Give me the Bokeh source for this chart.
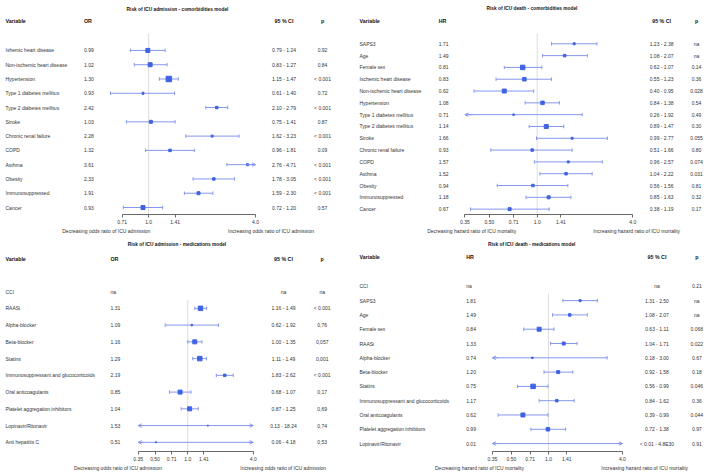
import math
from bokeh.plotting import figure
from bokeh.models import (Range1d, LogScale, LogAxis, LinearAxis, FixedTicker,
                          ColumnDataSource, Arrow, OpenHead)
from bokeh.layouts import gridplot
from bokeh.core.properties import value
from bokeh.embed import file_html
from bokeh.resources import INLINE

NA = float("nan")

# ---------------- data: ICU admission - comorbidities model ----------------
a1_vars = ["Ishemic heart disease", "Non-ischemic heart disease", "Hypertension",
           "Type 1 diabetes mellitus", "Type 2 diabetes mellitus", "Stroke",
           "Chronic renal failure", "COPD", "Asthma", "Obesity", "Immunosuppressed", "Cancer"]
a1_est = [0.99, 1.02, 1.30, 0.93, 2.42, 1.03, 2.28, 1.32, 3.61, 2.33, 1.91, 0.93]
a1_lo = [0.79, 0.83, 1.15, 0.61, 2.10, 0.75, 1.62, 0.96, 2.76, 1.78, 1.59, 0.72]
a1_hi = [1.24, 1.27, 1.47, 1.40, 2.79, 1.41, 3.23, 1.81, 4.71, 3.05, 2.30, 1.20]
a1_est_txt = ["0.99", "1.02", "1.30", "0.93", "2.42", "1.03", "2.28", "1.32", "3.61", "2.33", "1.91", "0.93"]
a1_ci_txt = ["0.79 - 1.24", "0.83 - 1.27", "1.15 - 1.47", "0.61 - 1.40", "2.10 - 2.79", "0.75 - 1.41",
             "1.62 - 3.23", "0.96 - 1.81", "2.76 - 4.71", "1.78 - 3.05", "1.59 - 2.30", "0.72 - 1.20"]
a1_p_txt = ["0.92", "0.84", "< 0.001", "0.72", "< 0.001", "0.87", "< 0.001", "0.09",
            "< 0.001", "< 0.001", "< 0.001", "0.57"]
a1_box = [4, 4, 5.5, 2, 2.5, 3, 2, 2.5, 2, 2.5, 3, 4]

# ---------------- data: ICU death - comorbidities model ----------------
d1_vars = ["SAPS3", "Age", "Female sex", "Ischemic heart disease", "Non-ischemic heart disease",
           "Hypertension", "Type 1 diabetes mellitus", "Type 2 diabetes mellitus", "Stroke",
           "Chronic renal failure", "COPD", "Asthma", "Obesity", "Immunosuppressed", "Cancer"]
d1_est = [1.71, 1.49, 0.81, 0.83, 0.62, 1.08, 0.71, 1.14, 1.66, 0.93, 1.57, 1.52, 0.94, 1.18, 0.67]
d1_lo = [1.23, 1.08, 0.62, 0.55, 0.40, 0.84, 0.26, 0.89, 0.99, 0.51, 0.96, 1.04, 0.56, 0.85, 0.38]
d1_hi = [2.38, 2.07, 1.07, 1.23, 0.95, 1.38, 1.92, 1.47, 2.77, 1.66, 2.57, 2.22, 1.56, 1.63, 1.19]
d1_est_txt = ["1.71", "1.49", "0.81", "0.83", "0.62", "1.08", "0.71", "1.14", "1.66", "0.93",
              "1.57", "1.52", "0.94", "1.18", "0.67"]
d1_ci_txt = ["1.23 - 2.38", "1.08 - 2.07", "0.62 - 1.07", "0.55 - 1.23", "0.40 - 0.95", "0.84 - 1.38",
             "0.26 - 1.92", "0.89 - 1.47", "0.99 - 2.77", "0.51 - 1.66", "0.96 - 2.57", "1.04 - 2.22",
             "0.56 - 1.56", "0.85 - 1.63", "0.38 - 1.19"]
d1_p_txt = ["na", "na", "0.14", "0.36", "0.028", "0.54", "0.49", "0.30", "0.055", "0.80",
            "0.074", "0.031", "0.81", "0.32", "0.17"]
d1_box = [2, 2.5, 4.5, 3.5, 4, 3.5, 1.5, 4, 2, 2.5, 2, 2.5, 2.5, 3, 3]

# ---------------- data: ICU admission - medications model ----------------
a2_vars = ["CCI", "RAASi", "Alpha-blocker", "Beta-blocker", "Statins",
           "Immunosuppressant and glucocorticoids", "Oral anticoagulants",
           "Platelet aggregation inhibitors", "Lopinavir/Ritonavir", "Anti hepatitis C"]
a2_est = [NA, 1.31, 1.09, 1.16, 1.29, 2.19, 0.85, 1.04, 1.53, 0.51]
a2_lo = [NA, 1.16, 0.62, 1.00, 1.11, 1.83, 0.68, 0.87, 0.13, 0.06]
a2_hi = [NA, 1.49, 1.92, 1.35, 1.49, 2.62, 1.07, 1.25, 18.24, 4.18]
a2_est_txt = ["na", "1.31", "1.09", "1.16", "1.29", "2.19", "0.85", "1.04", "1.53", "0.51"]
a2_ci_txt = ["na", "1.16 - 1.49", "0.62 - 1.92", "1.00 - 1.35", "1.11 - 1.49", "1.83 - 2.62",
             "0.68 - 1.07", "0.87 - 1.25", "0.13 - 18.24", "0.06 - 4.18"]
a2_p_txt = ["na", "< 0.001", "0,76", "0,057", "0,001", "< 0.001", "0,17", "0,69", "0,74", "0,53"]
a2_box = [0, 4.5, 1.5, 4, 4.5, 2.5, 4, 4, 1, 1]

# ---------------- data: ICU death - medications model ----------------
d2_vars = ["CCI", "SAPS3", "Age", "Female sex", "RAASi", "Alpha-blocker", "Beta-blocker", "Statins",
           "Immunosuppressant and glucocorticoids", "Oral anticoagulants",
           "Platelet aggregation inhibitors", "Lopinavir/Ritonavir"]
d2_est = [NA, 1.81, 1.49, 0.84, 1.33, 0.74, 1.20, 0.75, 1.17, 0.62, 0.99, 0.01]
d2_lo = [NA, 1.31, 1.08, 0.63, 1.04, 0.18, 0.92, 0.56, 0.84, 0.39, 0.72, 0.005]
d2_hi = [NA, 2.50, 2.07, 1.11, 1.71, 3.00, 1.58, 0.99, 1.62, 0.99, 1.38, 4.8e30]
d2_est_txt = ["na", "1.81", "1.49", "0.84", "1.33", "0.74", "1.20", "0.75", "1.17", "0.62", "0.99", "0.01"]
d2_ci_txt = ["na", "1.31 - 2.50", "1.08 - 2.07", "0.63 - 1.11", "1.04 - 1.71", "0.18 - 3.00",
             "0.92 - 1.58", "0.56 - 0.99", "0.84 - 1.62", "0.39 - 0.99", "0.72 - 1.38", "< 0.01 - 4.8E30"]
d2_p_txt = ["0.21", "na", "na", "0.068", "0.022", "0.67", "0.18", "0.046", "0.36", "0.044", "0.97", "0.91"]
d2_box = [0, 2, 2.5, 4, 3, 1.5, 3, 4.5, 2.5, 4, 3.5, 0]

ticks_full = [0.35, 0.5, 0.71, 1.0, 1.41, 4.0]
tick_labels = {0.35: "0.35", 0.5: "0.50", 0.71: "0.71", 1.0: "1.0", 1.41: "1.41", 4.0: "4.0"}

FONT = "Liberation Sans"
BOX = "#3f63e3"
LINE = "#8797ee"
REF = "#dcdcdc"
TXT = "#333333"


def panel(width, height, refw, border_b, title, title_x, title_y, header_y, est_head, est_x, ci_x, p_x,
          first_y, step, axis_y, map_a, map_b, ticks, clip, ref_top, dec_x, inc_x, dec_txt, inc_txt,
          names, est, lo, hi, est_txt, ci_txt, p_txt, box):
    p = figure(width=width, height=height, x_range=Range1d(0, refw), y_range=Range1d(axis_y, 0),
               x_axis_type=None, y_axis_type=None, toolbar_location=None, output_backend="svg",
               min_border_left=0, min_border_right=0, min_border_top=0, min_border_bottom=border_b,
               outline_line_color=None)
    # log scale for the forest area
    (xa, va), (xb, vb) = map_a, map_b
    k = (xb - xa) / math.log2(vb / va)
    x1 = xa - k * math.log2(va)
    p.extra_x_ranges = {"log": Range1d(2 ** ((0 - x1) / k), 2 ** ((refw - x1) / k))}
    p.extra_x_scales = {"log": LogScale()}

    n = len(names)
    ys = [first_y + i * step for i in range(n)]

    # title and headers
    p.text(x=[title_x], y=[title_y], text=[title], text_font=value(FONT),
           text_font_size=value("4.8px"), text_font_style="bold", text_align="center",
           text_baseline="middle", text_color="#111111")
    p.text(x=[5, est_x], y=[header_y, header_y], text=["Variable", est_head], text_font=value(FONT),
           text_font_size=value("5.3px"), text_font_style="bold", text_align="left",
           text_baseline="middle", text_color="#111111")
    p.text(x=[ci_x, p_x], y=[header_y, header_y], text=["95 % CI", "p"], text_font=value(FONT),
           text_font_size=value("5.3px"), text_font_style="bold", text_align="center",
           text_baseline="middle", text_color="#111111")

    # row texts
    src_l = ColumnDataSource(dict(x=[5] * n + [est_x] * n, y=ys + ys, t=list(names) + list(est_txt)))
    p.text(x="x", y="y", text="t", source=src_l, text_font=value(FONT), text_font_size=value("5px"),
           text_align="left", text_baseline="middle", text_color=TXT)
    src_c = ColumnDataSource(dict(x=[ci_x] * n + [p_x] * n, y=ys + ys, t=list(ci_txt) + list(p_txt)))
    p.text(x="x", y="y", text="t", source=src_c, text_font=value(FONT), text_font_size=value("5px"),
           text_align="center", text_baseline="middle", text_color=TXT)

    # reference line at 1
    p.segment(x0=[1.0], y0=[ref_top], x1=[1.0], y1=[axis_y], x_range_name="log",
              line_color=REF, line_width=1)

    clo, chi = clip
    seg = dict(x0=[], x1=[], y=[])
    caps = dict(x=[], y=[])
    arr_l = dict(xs=[], xe=[], y=[])
    arr_r = dict(xs=[], xe=[], y=[])
    boxes = dict(x=[], y=[], s=[])
    for i in range(n):
        if math.isnan(lo[i]):
            continue
        a = max(lo[i], clo)
        b = min(hi[i], chi)
        seg["x0"].append(a); seg["x1"].append(b); seg["y"].append(ys[i])
        if lo[i] >= clo:
            caps["x"].append(lo[i]); caps["y"].append(ys[i])
        else:
            arr_l["xs"].append(clo * 1.12); arr_l["xe"].append(clo); arr_l["y"].append(ys[i])
        if hi[i] <= chi:
            caps["x"].append(hi[i]); caps["y"].append(ys[i])
        else:
            arr_r["xs"].append(chi / 1.12); arr_r["xe"].append(chi); arr_r["y"].append(ys[i])
        if box[i] > 0 and clo <= est[i] <= chi:
            boxes["x"].append(est[i]); boxes["y"].append(ys[i]); boxes["s"].append(box[i])

    p.segment(x0="x0", y0="y", x1="x1", y1="y", source=ColumnDataSource(seg), x_range_name="log",
              line_color=LINE, line_width=1)
    if caps["x"]:
        p.scatter(x="x", y="y", source=ColumnDataSource(caps), marker="dash", angle=math.pi / 2,
                  size=3.5, line_color=LINE, line_width=1, x_range_name="log")
    for d in (arr_l, arr_r):
        if d["xs"]:
            p.add_layout(Arrow(end=OpenHead(size=3.5, line_color=LINE, line_width=1),
                               x_start="xs", y_start="y", x_end="xe", y_end="y",
                               source=ColumnDataSource(d), x_range_name="log",
                               line_color=LINE, line_width=1))
    p.scatter(x="x", y="y", size="s", source=ColumnDataSource(boxes), marker="square",
              fill_color=BOX, line_color=BOX, x_range_name="log")

    # log axis
    lax = LogAxis(x_range_name="log", ticker=FixedTicker(ticks=ticks), bounds=(ticks[0], ticks[-1]),
                  major_label_overrides={t: tick_labels[t] for t in ticks})
    lax.axis_line_color = "#444444"
    lax.axis_line_width = 0.8
    lax.major_tick_line_color = "#444444"
    lax.major_tick_line_width = 0.8
    lax.major_tick_out = 3
    lax.major_tick_in = 0
    lax.minor_tick_line_color = None
    lax.major_label_standoff = 2
    lax.major_label_text_font = FONT
    lax.major_label_text_font_size = "5px"
    lax.major_label_text_color = TXT
    p.add_layout(lax, "below")

    # direction labels
    lab = LinearAxis(ticker=FixedTicker(ticks=[dec_x, inc_x]),
                     major_label_overrides={dec_x: dec_txt, inc_x: inc_txt})
    lab.axis_line_color = None
    lab.major_tick_line_color = None
    lab.minor_tick_line_color = None
    lab.major_tick_out = 0
    lab.major_tick_in = 0
    lab.major_label_standoff = 1
    lab.major_label_text_font = FONT
    lab.major_label_text_font_size = "5px"
    lab.major_label_text_color = TXT
    p.add_layout(lab, "below")
    return p


p1 = panel(354, 237, 354, 23, "Risk of ICU admission - comorbidities model", 177, 9, 21, "OR", 83.5, 283.5, 322,
           50, 14.3, 214.3, (121.7, 0.71), (255, 4.0), [0.71, 1.0, 1.41, 4.0], (0.5, 4.0), 33,
           105.8, 270.5, "Decreasing odds ratio of ICU admission", "Increasing odds ratio of ICU admission",
           a1_vars, a1_est, a1_lo, a1_hi, a1_est_txt, a1_ci_txt, a1_p_txt, a1_box)
p2 = panel(354, 237, 355, 23, "Risk of ICU death - comorbidities model", 178, 8, 20, "HR", 84.5, 308, 343,
           43.3, 11.81, 214, (110.7, 0.35), (279, 4.0), ticks_full, (0.35, 4.0), 33,
           117.5, 283, "Decreasing hazard ratio of ICU mortality", "Increasing hazard ratio of ICU mortality",
           d1_vars, d1_est, d1_lo, d1_hi, d1_est_txt, d1_ci_txt, d1_p_txt, d1_box)
p3 = panel(354, 236, 354, 21, "Risk of ICU admission - medications model", 176.5, 6.7, 22, "OR", 110, 283, 321.7,
           54.3, 16.8, 214.7, (137.7, 0.35), (252.7, 4.0), ticks_full, (0.35, 4.0), 62.7,
           117.5, 282.7, "Decreasing odds ratio of ICU admission", "Increasing odds ratio of ICU admission",
           a2_vars, a2_est, a2_lo, a2_hi, a2_est_txt, a2_ci_txt, a2_p_txt, a2_box)
p4 = panel(354, 236, 355, 21, "Risk of ICU death - medications model", 177.7, 6.7, 20, "HR", 112, 303.3, 343.3,
           49, 14.34, 214.7, (138.3, 0.35), (268.7, 4.0), ticks_full, (0.35, 4.0), 56.2,
           125.3, 291, "Decreasing hazard ratio of ICU mortality", "Increasing hazard ratio of ICU mortality",
           d2_vars, d2_est, d2_lo, d2_hi, d2_est_txt, d2_ci_txt, d2_p_txt, d2_box)

grid = gridplot([[p1, p2], [p3, p4]], toolbar_location=None)
open("out.html", "w").write(file_html(grid, INLINE))
